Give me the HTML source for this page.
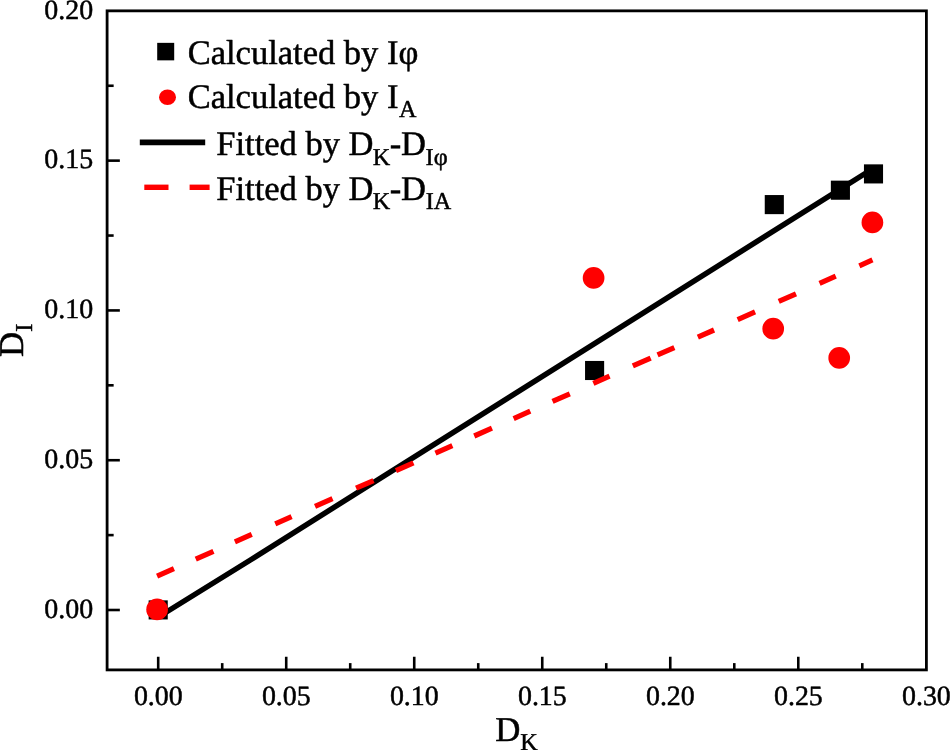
<!DOCTYPE html>
<html><head><meta charset="utf-8"><title>Chart</title>
<style>html,body{margin:0;padding:0;background:#fff;}body{width:950px;height:750px;overflow:hidden;}svg{display:block;will-change:transform;}text{text-rendering:geometricPrecision;font-family:"Liberation Serif",serif;fill:#000;stroke:#000;stroke-width:0.5px;stroke-linejoin:round;}</style>
</head><body>
<svg width="950" height="750" viewBox="0 0 950 750">
<rect x="0" y="0" width="950" height="750" fill="#ffffff"/>
<g id="series">
<polyline points="162,614.8 250,560.2 873.5,168.2" fill="none" stroke="#000" stroke-width="5.45" stroke-linejoin="round"/>
<rect x="148.65" y="600.35" width="19.1" height="19.1" fill="#000"/>
<rect x="585.05" y="360.95" width="19.1" height="19.1" fill="#000"/>
<rect x="764.75" y="195.05" width="19.1" height="19.1" fill="#000"/>
<rect x="830.85" y="180.65" width="19.1" height="19.1" fill="#000"/>
<rect x="863.95" y="164.35" width="19.1" height="19.1" fill="#000"/>
<path d="M157.09 576.19L173.94 568.74M195.75 559.10L213.45 551.28M234.90 541.80L251.75 534.35M275.25 523.96L291.59 516.74M315.04 506.37L332.52 498.65M356.09 488.23L373.55 480.51M395.95 470.61L413.45 462.87M435.45 453.15L452.35 445.68M474.25 436.00L491.95 428.17M513.65 418.58L530.25 411.24M552.55 401.39L569.80 393.76M593.35 383.35L609.55 376.19M632.85 365.89L650.65 358.02M657.55 354.97L674.35 347.55M697.85 337.16L714.05 330.00M737.65 319.56L755.05 311.87M778.75 301.40L796.00 293.77M819.55 283.36L835.75 276.20M859.35 265.77L872.45 259.98" stroke="#ff0000" stroke-width="5.2" fill="none"/>
<circle cx="157.1" cy="609.4" r="10.85" fill="#ff0000"/>
<circle cx="593.6" cy="277.9" r="10.85" fill="#ff0000"/>
<circle cx="773.2" cy="328.7" r="10.85" fill="#ff0000"/>
<circle cx="839.2" cy="357.9" r="10.85" fill="#ff0000"/>
<circle cx="872.4" cy="222.4" r="10.85" fill="#ff0000"/>
</g>
<g id="axes" stroke="#000" fill="none">
<rect x="107.1" y="10.85" width="819.30" height="659.05" stroke-width="2.8"/>
<line x1="158.20" y1="669.9" x2="158.20" y2="656.75" stroke-width="2.6"/>
<line x1="286.22" y1="669.9" x2="286.22" y2="656.75" stroke-width="2.6"/>
<line x1="414.23" y1="669.9" x2="414.23" y2="656.75" stroke-width="2.6"/>
<line x1="542.25" y1="669.9" x2="542.25" y2="656.75" stroke-width="2.6"/>
<line x1="670.26" y1="669.9" x2="670.26" y2="656.75" stroke-width="2.6"/>
<line x1="798.28" y1="669.9" x2="798.28" y2="656.75" stroke-width="2.6"/>
<line x1="222.21" y1="669.9" x2="222.21" y2="663.10" stroke-width="2.6"/>
<line x1="350.22" y1="669.9" x2="350.22" y2="663.10" stroke-width="2.6"/>
<line x1="478.24" y1="669.9" x2="478.24" y2="663.10" stroke-width="2.6"/>
<line x1="606.25" y1="669.9" x2="606.25" y2="663.10" stroke-width="2.6"/>
<line x1="734.27" y1="669.9" x2="734.27" y2="663.10" stroke-width="2.6"/>
<line x1="862.28" y1="669.9" x2="862.28" y2="663.10" stroke-width="2.6"/>
<line x1="107.1" y1="610.00" x2="119.85" y2="610.00" stroke-width="2.6"/>
<line x1="107.1" y1="460.22" x2="119.85" y2="460.22" stroke-width="2.6"/>
<line x1="107.1" y1="310.43" x2="119.85" y2="310.43" stroke-width="2.6"/>
<line x1="107.1" y1="160.64" x2="119.85" y2="160.64" stroke-width="2.6"/>
<line x1="107.1" y1="535.11" x2="113.65" y2="535.11" stroke-width="2.6"/>
<line x1="107.1" y1="385.32" x2="113.65" y2="385.32" stroke-width="2.6"/>
<line x1="107.1" y1="235.54" x2="113.65" y2="235.54" stroke-width="2.6"/>
<line x1="107.1" y1="85.75" x2="113.65" y2="85.75" stroke-width="2.6"/>
</g>
<g id="ticklabels">
<text x="158.30" y="704.75" font-size="27.9" text-anchor="middle" transform="rotate(0.02 158.30 704.75)">0.00</text>
<text x="286.32" y="704.75" font-size="27.9" text-anchor="middle" transform="rotate(0.02 286.32 704.75)">0.05</text>
<text x="414.33" y="704.75" font-size="27.9" text-anchor="middle" transform="rotate(0.02 414.33 704.75)">0.10</text>
<text x="542.35" y="704.75" font-size="27.9" text-anchor="middle" transform="rotate(0.02 542.35 704.75)">0.15</text>
<text x="670.36" y="704.75" font-size="27.9" text-anchor="middle" transform="rotate(0.02 670.36 704.75)">0.20</text>
<text x="798.38" y="704.75" font-size="27.9" text-anchor="middle" transform="rotate(0.02 798.38 704.75)">0.25</text>
<text x="926.39" y="704.75" font-size="27.9" text-anchor="middle" transform="rotate(0.02 926.39 704.75)">0.30</text>
<text x="93.10" y="617.70" font-size="27.9" text-anchor="end" transform="rotate(0.02 93.10 617.70)">0.00</text>
<text x="93.10" y="467.92" font-size="27.9" text-anchor="end" transform="rotate(0.02 93.10 467.92)">0.05</text>
<text x="93.10" y="318.13" font-size="27.9" text-anchor="end" transform="rotate(0.02 93.10 318.13)">0.10</text>
<text x="93.10" y="168.34" font-size="27.9" text-anchor="end" transform="rotate(0.02 93.10 168.34)">0.15</text>
<text x="93.10" y="18.56" font-size="27.9" text-anchor="end" transform="rotate(0.02 93.10 18.56)">0.20</text>
</g>
<g id="titles">
<text x="495.20" y="740.60" font-size="34.8" transform="rotate(0.02 495.20 740.60)">D</text>
<text x="520.30" y="750.00" font-size="24.2" transform="rotate(0.02 520.30 750.00)">K</text>
<g transform="translate(22.7,357) rotate(-90)"><text x="0" y="0" font-size="34.8">D</text><text x="25.2" y="9.6" font-size="24.2">I</text></g>
</g>
<g id="legend">
<rect x="157.2" y="42.85" width="17.0" height="17.5" fill="#000"/>
<ellipse cx="167.5" cy="97.3" rx="8.5" ry="7.7" fill="#ff0000"/>
<line x1="139.8" y1="142.4" x2="205.2" y2="142.4" stroke="#000" stroke-width="5.6"/>
<rect x="144.3" y="184.6" width="24.2" height="5.4" fill="#ff0000"/>
<rect x="189.6" y="184.6" width="20.0" height="5.4" fill="#ff0000"/>
<text x="187.70" y="64.30" font-size="34.5" transform="rotate(0.02 187.70 64.30)">Calculated by Iφ</text>
<text x="187.70" y="107.80" font-size="34.5" transform="rotate(0.02 187.70 107.80)">Calculated by I</text>
<text x="398.90" y="117.20" font-size="24.2" transform="rotate(0.02 398.90 117.20)">A</text>
<text x="216.30" y="155.35" font-size="34.5" transform="rotate(0.02 216.30 155.35)">Fitted by D</text>
<text x="372.70" y="164.55" font-size="24.2" transform="rotate(0.02 372.70 164.55)">K</text>
<text x="389.85" y="155.35" font-size="34.5" transform="rotate(0.02 389.85 155.35)">-</text>
<text x="400.95" y="155.35" font-size="34.5" transform="rotate(0.02 400.95 155.35)">D</text>
<text x="216.30" y="200.05" font-size="34.5" transform="rotate(0.02 216.30 200.05)">Fitted by D</text>
<text x="372.70" y="209.25" font-size="24.2" transform="rotate(0.02 372.70 209.25)">K</text>
<text x="389.85" y="200.05" font-size="34.5" transform="rotate(0.02 389.85 200.05)">-</text>
<text x="400.95" y="200.05" font-size="34.5" transform="rotate(0.02 400.95 200.05)">D</text>
<text x="425.60" y="164.55" font-size="24.2" transform="rotate(0.02 425.60 164.55)">Iφ</text>
<text x="425.70" y="209.30" font-size="24.2" transform="rotate(0.02 425.70 209.30)">IA</text>
</g>
</svg>
</body></html>
